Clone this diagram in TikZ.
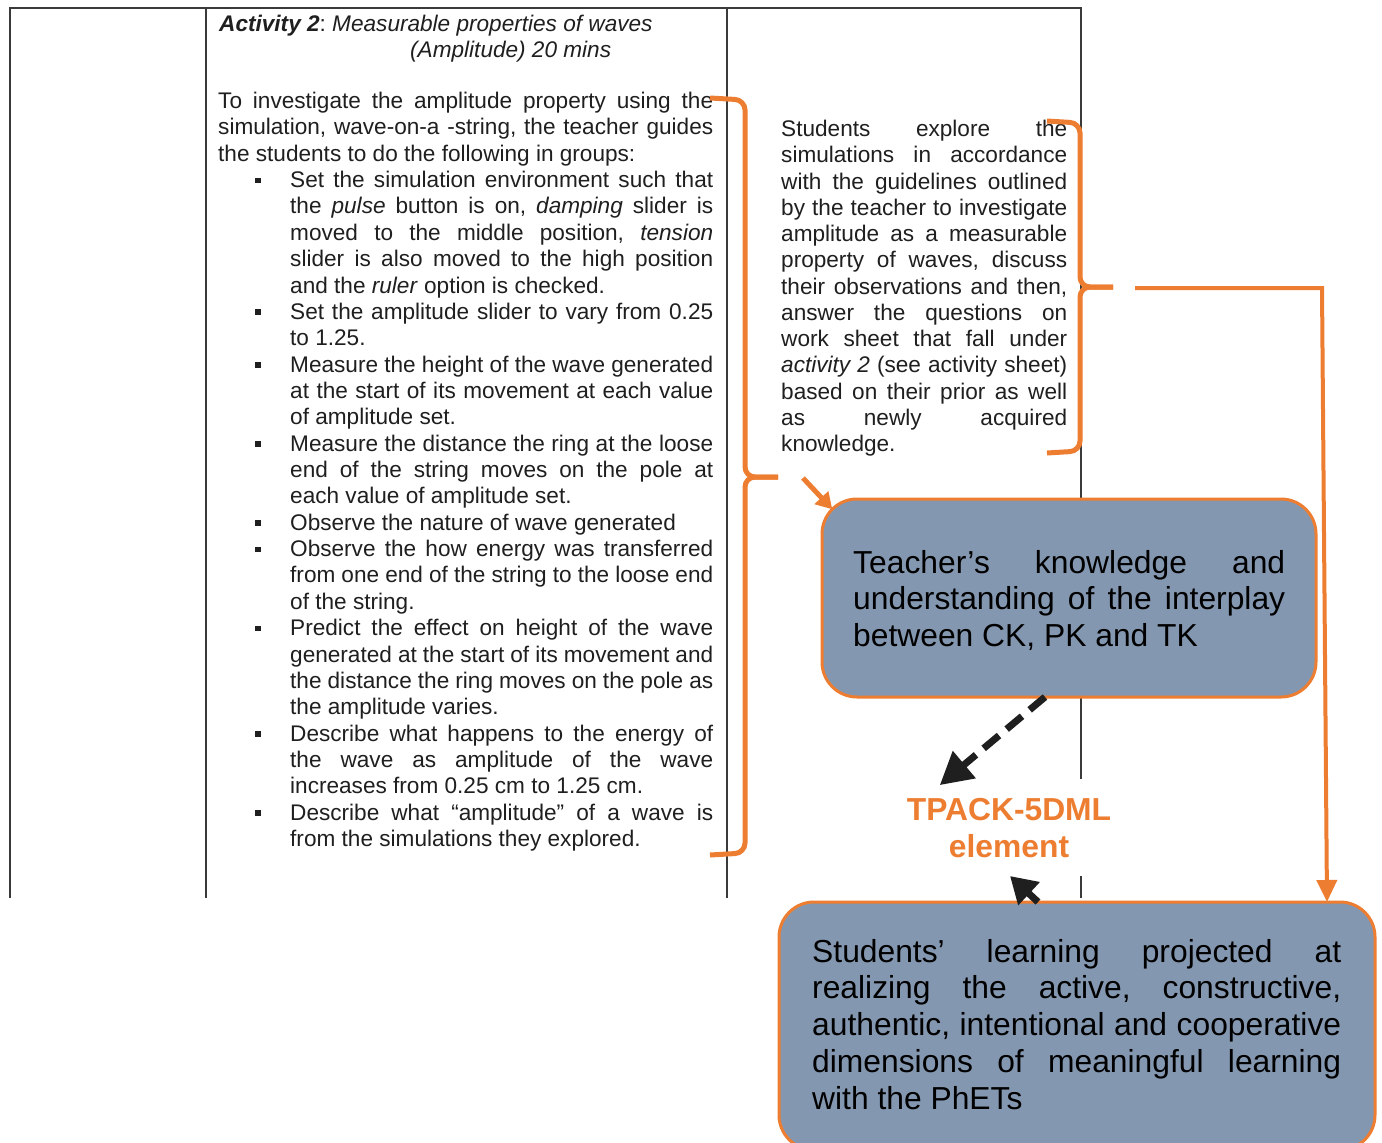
\documentclass[tikz,border=0pt]{standalone}
\usepackage{fontspec}
\setmainfont{Liberation Sans}
\usetikzlibrary{arrows.meta}

\definecolor{accent}{HTML}{ED7D31}
\definecolor{panel}{HTML}{8497B0}
\definecolor{gridline}{HTML}{3A3A3A}
\definecolor{ink}{HTML}{1F1F1F}

% a full-width line whose word gaps are spread evenly
\newcommand\jln[1]{\hbox to\hsize{\spaceskip=0pt plus 1fil\xspaceskip=0pt plus 1fil\relax #1}}
% a line set flush left
\newcommand\lln[1]{\hbox to\hsize{#1\hfil}}
% square bullet and hanging indent of the step list
\newcommand\itembul{\hskip37pt\rule[4.5pt]{5.5pt}{5.5pt}\hskip29.5pt}
\newcommand\indt{\hskip72pt}

\tikzset{
  gridrule/.style={draw=gridline, line width=2pt},
  brace/.style={draw=accent, line width=5pt, rounded corners=10pt},
  panelbox/.style={draw=accent, line width=3pt, fill=panel, rounded corners=35pt,
    inner sep=0pt, outer sep=0pt},
  cell/.style={inner sep=0pt, anchor=base west, text=ink,
    font=\fontsize{22.6}{26.36}\selectfont},
  boxtext/.style={inner sep=0pt, anchor=base west, text=black,
    font=\fontsize{31.8}{36.8}\selectfont},
  link/.style={draw=accent, line width=4pt},
  pointer/.style={draw=ink, line width=7pt},
}

\begin{document}
\frenchspacing
\begin{tikzpicture}[x=1pt,y=-1pt]
\useasboundingbox (0,0) rectangle (1382,1143);
\clip (0,0) rectangle (1382,1143);
\fill[white] (0,0) rectangle (1382,1143);

% lesson-plan table
\draw[gridrule] (10,898) -- (10,8) -- (1081,8) -- (1081,898);
\draw[gridrule] (206,8) -- (206,898);
\draw[gridrule] (727,8) -- (727,898);

% activity heading
\node[cell, font=\fontsize{22.6}{25.5}\selectfont] (act) at (219,31.5)
 {\vtop{\hsize=495pt\lineskiplimit=-100pt
  \lln{\textbf{\textit{Activity 2}}: \textit{Measurable properties of waves}}
  \lln{\hskip191pt\textit{(Amplitude) 20 mins}}}};

% teacher's guidance
\node[cell] (steps) at (218,108.5) {\vtop{\hsize=495pt\lineskiplimit=-100pt
  \jln{To investigate the amplitude property using the}
  \jln{simulation, wave-on-a -string, the teacher guides}
  \lln{the students to do the following in groups:}
  \jln{\itembul Set the simulation environment such that}
  \jln{\indt the \textit{pulse} button is on, \textit{damping} slider is}
  \jln{\indt moved to the middle position, \textit{tension}}
  \jln{\indt slider is also moved to the high position}
  \lln{\indt and the \textit{ruler} option is checked.}
  \jln{\itembul Set the amplitude slider to vary from 0.25}
  \lln{\indt to 1.25.}
  \jln{\itembul Measure the height of the wave generated}
  \jln{\indt at the start of its movement at each value}
  \lln{\indt of amplitude set.}
  \jln{\itembul Measure the distance the ring at the loose}
  \jln{\indt end of the string moves on the pole at}
  \lln{\indt each value of amplitude set.}
  \lln{\itembul Observe the nature of wave generated}
  \jln{\itembul Observe the how energy was transferred}
  \jln{\indt from one end of the string to the loose end}
  \lln{\indt of the string.}
  \jln{\itembul Predict the effect on height of the wave}
  \jln{\indt generated at the start of its movement and}
  \jln{\indt the distance the ring moves on the pole as}
  \lln{\indt the amplitude varies.}
  \jln{\itembul Describe what happens to the energy of}
  \jln{\indt the wave as amplitude of the wave}
  \lln{\indt increases from 0.25 cm to 1.25 cm.}
  \jln{\itembul Describe what “amplitude” of a wave is}
  \lln{\indt from the simulations they explored.}}};

% students' activity
\node[cell, font=\fontsize{22.6}{26.25}\selectfont] (explore) at (781,136.5)
 {\vtop{\hsize=286pt\lineskiplimit=-100pt
  \jln{Students explore the}
  \jln{simulations in accordance}
  \jln{with the guidelines outlined}
  \jln{by the teacher to investigate}
  \jln{amplitude as a measurable}
  \jln{property of waves, discuss}
  \jln{their observations and then,}
  \jln{answer the questions on}
  \jln{work sheet that fall under}
  \jln{\textit{activity 2} (see activity sheet)}
  \jln{based on their prior as well}
  \jln{as newly acquired}
  \lln{knowledge.}}};

% central label
\node[inner xsep=3pt, inner ysep=18.5pt, fill=white, anchor=base, text=accent,
  font=\bfseries\fontsize{31.8}{37}\selectfont] (tpack) at (1009,820)
 {\vtop{\hsize=212pt\lineskiplimit=-100pt
  \hbox to\hsize{\hfil TPACK-5DML\hfil}
  \hbox to\hsize{\hfil element\hfil}}};

% knowledge panels
\node[panelbox, minimum width=494pt, minimum height=198pt] (teach) at (1069,598) {};
\node[boxtext] (teachtext) at (853,573) {\vtop{\hsize=432pt\lineskiplimit=-100pt
  \jln{Teacher’s knowledge and}
  \jln{understanding of the interplay}
  \lln{between CK, PK and TK}}};

\node[panelbox, minimum width=596pt, minimum height=248pt] (stud) at (1077,1026) {};
\node[boxtext] (studtext) at (812,962) {\vtop{\hsize=529pt\lineskiplimit=-100pt
  \jln{Students’ learning projected at}
  \jln{realizing the active, constructive,}
  \jln{authentic, intentional and cooperative}
  \jln{dimensions of meaningful learning}
  \lln{with the PhETs}}};

% braces grouping the two columns
\draw[brace] (710,98) -- (745,100) -- (745,477) -- (778,477);
\draw[brace] (778,477) -- (745,477) -- (745,853) -- (710,855);
\draw[brace] (1047,121) -- (1080,123) -- (1080,287) -- (1113,287);
\draw[brace] (1113,287) -- (1080,287) -- (1080,451) -- (1047,453);

% connectors
\coordinate (stepsout) at (803,478);
\coordinate (exploreout) at (1135,288);
\draw[link, line width=5pt, -{Triangle[length=16pt,width=18pt]}]
  (stepsout) -- ([xshift=10.3pt,yshift=-10.3pt]teach.north west);
\draw[link, -{Triangle[length=22pt,width=20pt]}]
  (exploreout) -- (1322,288) -- ([xshift=250pt]stud.north);
\draw[pointer, dash pattern=on 20pt off 10pt, -{Triangle[length=32pt,width=34pt]}]
  ([xshift=-24pt]teach.south) -- ([xshift=40pt,yshift=-6pt]tpack.north west);
\draw[pointer, -{Triangle[length=26pt,width=30pt]}]
  ([xshift=-39pt]stud.north) -- ([xshift=1pt]tpack.south);
\end{tikzpicture}
\end{document}
